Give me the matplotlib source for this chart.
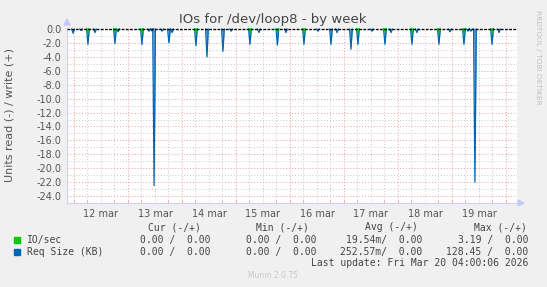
import numpy as np
import matplotlib
matplotlib.use("Agg")
from matplotlib import pyplot as plt

# hours after Mar 12 00:00 and read values (plotted negative)
req_hours = [-0.4, 3.1, 6.2, 9.3, 18.2, 19.6, 30.2, 33.3, 34.7, 35.6, 39.1, 42.2, 43.6,
             54.2, 59.1, 66.2, 69.8, 78.2, 82.2, 90.4, 94.2, 102.2, 108.4, 114.2, 116.9,
             123.1, 126.2, 132.4, 138.2, 140.9, 150.2, 152.4, 162.2, 167.1, 173.3, 175.1,
             176.4, 178.2, 185.8, 188.9]
req_vals = [-0.6, -0.2, -2.2, -0.5, -2.1, -0.4, -2.2, -0.3, -0.3, -22.5, -0.3, -2.0, -0.5,
            -2.4, -4.0, -3.2, -0.3, -2.2, -0.5, -2.3, -0.5, -2.2, -0.3, -2.2, -0.5,
            -2.9, -2.2, -0.3, -2.2, -0.5, -2.2, -0.5, -2.2, -0.4, -2.2, -0.3,
            -0.3, -22.0, -2.2, -0.5]
io_hours = [6.2, 18.2, 30.2, 54.2, 78.2, 90.4, 102.2, 126.2, 138.2, 150.2, 162.2, 173.3, 185.8]
io_vals = [-0.5, -0.4, -0.5, -0.5, -0.5, -0.4, -0.5, -0.5, -0.4, -0.5, -0.5, -0.5, -0.5]

day_labels = ["12 mar", "13 mar", "14 mar", "15 mar", "16 mar", "17 mar", "18 mar", "19 mar"]

legend_names = ["IO/sec", "Req Size (KB)"]
cur_vals = ["0.00 /  0.00", "0.00 /  0.00"]
min_vals = ["0.00 /  0.00", "0.00 /  0.00"]
avg_vals = ["19.54m/  0.00", "252.57m/  0.00"]
max_vals = ["3.19 /  0.00", "128.45 /  0.00"]
colors = ["#00cc00", "#0066b3"]

W, H = 547, 287
fig = plt.figure(figsize=(W / 100, H / 100), dpi=100, facecolor="#f0f0f0")
ax = fig.add_axes([67 / W, 1 - 203 / H, 450 / W, 175 / H])
ax.set_facecolor("white")


def spikes(hours, vals, half=0.6):
    # one little triangle per spike, separated by nan so no baseline is drawn
    xs, ys = [], []
    for h, v in zip(hours, vals):
        xs += [h - half, h, h + half, np.nan]
        ys += [0, v, 0, np.nan]
    return np.array(xs), np.array(ys)


xmin, xmax = -3.1, 196.9
ax.set_xlim(xmin, xmax)
ax.set_ylim(-25, 0.15)

# grid
for h in np.arange(0, 197, 6):
    if h % 24 == 0:
        ax.axvline(h, color="#e8a0a0", lw=0.7, ls=(0, (1, 2)), zorder=1)
    else:
        ax.axvline(h, color="#c8c8c8", lw=0.7, ls=(0, (1, 2)), zorder=1)
for v in range(-25, 1):
    if v % 2 == 0:
        ax.axhline(v, color="#e8a0a0", lw=0.7, ls=(0, (1, 2)), zorder=1)
    else:
        ax.axhline(v, color="#c8c8c8", lw=0.7, ls=(0, (1, 2)), zorder=1)

for h, v in zip(req_hours, req_vals):
    ax.fill_between([h - 0.6, h, h + 0.6], [0, v, 0], 0, color="#5a9bd8", lw=0, zorder=3)
x, y = spikes(req_hours, req_vals)
ax.plot(x, y, color=colors[1], lw=0.9, zorder=4)
x, y = spikes(io_hours, io_vals, half=0.5)
ax.plot(x, y, color=colors[0], lw=1.2, zorder=5)
ax.axhline(0, color="black", lw=1.0, ls=(0, (2, 1)), zorder=6)

ax.set_yticks(np.arange(0, -25, -2.0))
ax.set_yticklabels(["%.1f" % v for v in np.arange(0, -25, -2.0)], fontsize=7, color="#555555")
ax.set_xticks(np.arange(12, 192, 24))
ax.set_xticklabels(day_labels, fontsize=7, color="#555555")
ax.tick_params(axis="both", length=0, pad=4)
ax.set_xticks(np.arange(0, 197, 6), minor=True)
ax.tick_params(axis="x", which="minor", length=2, color="#e8a0a0", direction="in")
for side in ["top", "right"]:
    ax.spines[side].set_visible(False)
for side in ["left", "bottom"]:
    ax.spines[side].set_color("#d0d0f8")
    ax.spines[side].set_linewidth(0.8)

# axis arrows
fig.patches.append(plt.Polygon([[64 / W, 1 - 25 / H], [70 / W, 1 - 25 / H], [67 / W, 1 - 19 / H]],
                               closed=True, transform=fig.transFigure, color="#c8c8f8"))
fig.patches.append(plt.Polygon([[518 / W, 1 - 200 / H], [518 / W, 1 - 206 / H], [524 / W, 1 - 203 / H]],
                               closed=True, transform=fig.transFigure, color="#c8c8f8"))

fig.text(273 / W, 1 - 19 / H, "IOs for /dev/loop8 - by week", ha="center", va="center",
         fontsize=9.5, color="#444444")
fig.text(10 / W, 1 - 115 / H, "Units read (-) / write (+)", rotation=90, ha="center", va="center",
         fontsize=8, color="#555555")
fig.text(538 / W, 1 - 57 / H, "RRDTOOL / TOBI OETIKER", rotation=270, ha="center", va="center",
         fontsize=5.3, color="#c0c0c0")

mono = dict(family="DejaVu Sans Mono", fontsize=7, color="#444444", va="center")
for hdr, xr in zip(["Cur (-/+)", "Min (-/+)", "Avg (-/+)", "Max (-/+)"], [201, 309, 418, 527]):
    fig.text(xr / W, 1 - 227 / H, hdr, ha="right", **mono)
for i, yy in enumerate([240, 252]):
    fig.patches.append(plt.Rectangle((14 / W, 1 - (yy + 3) / H), 6 / W, 6 / H,
                                     transform=fig.transFigure, color=colors[i]))
    fig.text(27 / W, 1 - yy / H, legend_names[i], ha="left", **mono)
    fig.text(210 / W, 1 - yy / H, cur_vals[i], ha="right", **mono)
    fig.text(316 / W, 1 - yy / H, min_vals[i], ha="right", **mono)
    fig.text(422 / W, 1 - yy / H, avg_vals[i], ha="right", **mono)
    fig.text(528 / W, 1 - yy / H, max_vals[i], ha="right", **mono)
fig.text(528 / W, 1 - 263 / H, "Last update: Fri Mar 20 04:00:06 2026", ha="right", **mono)
fig.text(273 / W, 1 - 276 / H, "Munin 2.0.75", ha="center", va="center", fontsize=5.5, color="#c8c8c8")

fig.savefig("out.png", dpi=100, facecolor=fig.get_facecolor())
